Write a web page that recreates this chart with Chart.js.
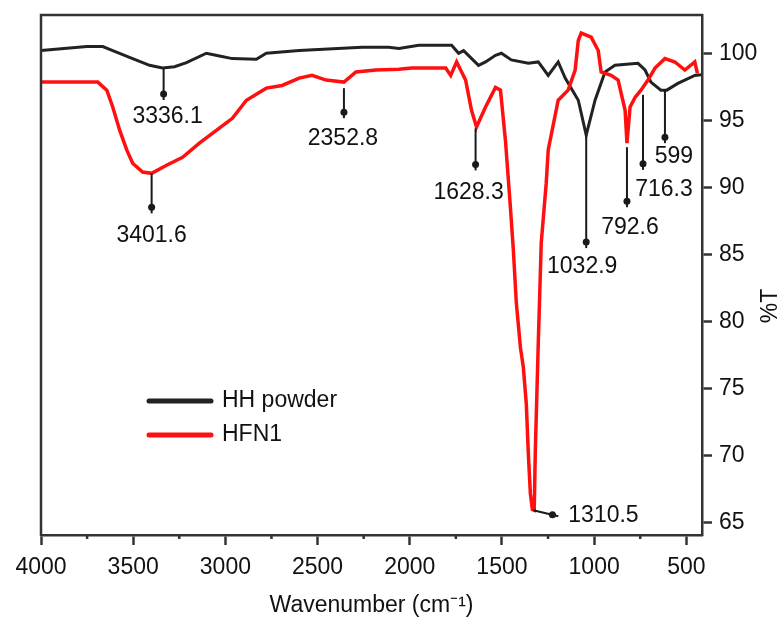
<!DOCTYPE html>
<html>
<head>
<meta charset="utf-8">
<title>FTIR spectra</title>
<script src="https://cdn.jsdelivr.net/npm/chart.js@4.4.1/dist/chart.umd.min.js"></script>
<style>
  html, body { margin: 0; padding: 0; background: #fff; }
  #wrap { width: 783px; height: 619px; }
</style>
</head>
<body>
<div id="wrap"><canvas id="ftirChart" width="783" height="619"></canvas></div>
<script>
// HH powder trace (wavenumber cm-1 / %T)
const hhWavenumber = [4000, 3751, 3665, 3611, 3503, 3411, 3341, 3276, 3211, 3103,
  3032, 2962, 2832, 2778, 2600, 2259, 2114, 2059, 1951, 1773,
  1735, 1708, 1627, 1589, 1535, 1503, 1449, 1357, 1303, 1249,
  1195, 1157, 1086, 1043, 995, 941, 887, 762, 724, 692,
  638, 606, 546, 454, 420];
const hhTransmittance = [100.2, 100.5, 100.5, 100.2, 99.6, 99.1, 98.9, 99.0, 99.3, 100.0,
  99.8, 99.6, 99.55, 100.0, 100.2, 100.45, 100.45, 100.35, 100.6, 100.6,
  100.0, 100.2, 99.1, 99.35, 99.85, 100.0, 99.5, 99.25, 99.35, 98.35,
  99.35, 98.15, 96.5, 93.9, 96.5, 98.6, 99.1, 99.25, 98.75, 97.85,
  97.25, 97.25, 97.75, 98.35, 98.4];

// HFN1 trace
const hfnWavenumber = [4000, 3692, 3643, 3611, 3573, 3535, 3503, 3449, 3400, 3319,
  3232, 3141, 3049, 2962, 2886, 2778, 2692, 2600, 2530, 2454,
  2357, 2292, 2184, 2059, 1989, 1805, 1778, 1746, 1697, 1665,
  1638, 1589, 1535, 1508, 1481, 1454, 1438, 1422, 1400, 1384,
  1368, 1357, 1346, 1335, 1325, 1319, 1303, 1287, 1260, 1249,
  1195, 1141, 1103, 1086, 1070, 1016, 978, 962, 908, 870,
  832, 822, 805, 778, 746, 708, 670, 616, 562, 508,
  454, 440];
const hfnTransmittance = [97.85, 97.85, 97.25, 96.0, 94.25, 92.8, 91.8, 91.15, 91.05, 91.65,
  92.25, 93.3, 94.25, 95.15, 96.5, 97.4, 97.6, 98.15, 98.35, 98.0,
  97.85, 98.6, 98.75, 98.8, 98.9, 98.9, 98.35, 99.35, 98.0, 95.75,
  94.5, 96.0, 97.45, 97.25, 93.5, 88.5, 85.3, 81.4, 78.1, 76.6,
  73.9, 70.2, 67.2, 66.0, 65.95, 70.4, 78.4, 85.85, 90.3, 92.8,
  96.5, 97.25, 98.75, 100.95, 101.5, 101.2, 100.2, 98.6, 98.35, 98.0,
  95.75, 93.3, 96.0, 96.7, 97.25, 98.0, 98.9, 99.6, 99.35, 98.75,
  99.35, 98.5];

const xTicks = [4000, 3500, 3000, 2500, 2000, 1500, 1000, 500];
const xMinorTicks = [3750, 3250, 2750, 2250, 1750, 1250, 750];
const yTicks = [65, 70, 75, 80, 85, 90, 95, 100];

// peak annotations: label, and the point on the trace the marker starts from
const peakLabels = ['3336.1', '3401.6', '2352.8', '1628.3', '1310.5', '1032.9', '792.6', '716.3', '599'];
const peakWavenumber = [3335, 3400, 2357, 1643, 1330, 1043, 822, 735, 616];
const peakTransmittance = [98.9, 91.05, 97.4, 94.4, 65.95, 93.9, 93.0, 96.9, 97.25];

// marker end and label placement, in pixels relative to the peak point
const peakLayout = [
  { ex: 0, ey: 32, lx: 4, ly: 49 },
  { ex: 0, ey: 40, lx: 0, ly: 62 },
  { ex: 0, ey: 30, lx: -1, ly: 51 },
  { ex: 0, ey: 42, lx: -7, ly: 64 },
  { ex: 25, ey: 6, lx: 35, ly: 5, align: 'left' },
  { ex: 0, ey: 113, lx: -4, ly: 132 },
  { ex: 0, ey: 60, lx: 3, ly: 80 },
  { ex: 0, ey: 75, lx: 21, ly: 95 },
  { ex: 0, ey: 53, lx: 9, ly: 67 }
];

const FONT = '"Liberation Sans", Arial, Helvetica, sans-serif';
const INK = '#111';
const FRAME = '#333';

const toPoints = (xs, ys) => xs.map((v, i) => ({ x: v, y: ys[i] }));

const extras = {
  id: 'extras',
  afterDatasetsDraw(chart) {
    const { ctx, chartArea: a, scales: { x, y } } = chart;
    ctx.save();

    // top and left frame
    ctx.strokeStyle = FRAME;
    ctx.lineWidth = 2.5;
    ctx.beginPath();
    ctx.moveTo(a.left, a.bottom + 1);
    ctx.lineTo(a.left, a.top);
    ctx.lineTo(a.right + 1, a.top);
    ctx.stroke();

    // minor x ticks
    ctx.beginPath();
    xMinorTicks.forEach(v => {
      const px = x.getPixelForValue(v);
      ctx.moveTo(px, a.bottom);
      ctx.lineTo(px, a.bottom + 4);
    });
    ctx.stroke();

    // peak markers
    ctx.strokeStyle = '#1a1a1a';
    ctx.fillStyle = '#1a1a1a';
    ctx.lineWidth = 2;
    ctx.font = '23px ' + FONT;
    ctx.textBaseline = 'middle';
    peakLabels.forEach((label, i) => {
      const px = x.getPixelForValue(peakWavenumber[i]);
      const py = y.getPixelForValue(peakTransmittance[i]);
      const L = peakLayout[i];
      const ex = px + L.ex, ey = py + L.ey;
      ctx.beginPath();
      ctx.moveTo(px, py);
      ctx.lineTo(ex, ey);
      ctx.stroke();
      // blob near the end of the marker
      const len = Math.hypot(L.ex, L.ey);
      const ux = L.ex / len, uy = L.ey / len;
      ctx.beginPath();
      ctx.ellipse(ex - ux * 6, ey - uy * 6, 3.5, 3.5, 0, 0, Math.PI * 2);
      ctx.fill();
      ctx.fillStyle = INK;
      ctx.textAlign = L.align || 'center';
      ctx.fillText(label, px + L.lx, py + L.ly);
      ctx.fillStyle = '#1a1a1a';
    });

    // legend
    const legendY = [401, 435];
    chart.data.datasets.slice().sort((p, q) => p.legendRow - q.legendRow).forEach((ds, i) => {
      ctx.strokeStyle = ds.borderColor;
      ctx.lineWidth = 5;
      ctx.lineCap = 'round';
      ctx.beginPath();
      ctx.moveTo(149, legendY[i]);
      ctx.lineTo(211, legendY[i]);
      ctx.stroke();
      ctx.fillStyle = INK;
      ctx.textAlign = 'left';
      ctx.font = '23px ' + FONT;
      ctx.fillText(ds.label, 222, legendY[i]);
    });

    // right axis title, reading bottom to top
    ctx.translate(771, 306);
    ctx.rotate(-Math.PI / 2);
    ctx.textAlign = 'center';
    ctx.fillStyle = INK;
    ctx.fillText('%T', 0, 0);
    ctx.restore();
  }
};

new Chart(document.getElementById('ftirChart'), {
  type: 'line',
  data: {
    datasets: [
      {
        label: 'HH powder',
        data: toPoints(hhWavenumber, hhTransmittance),
        borderColor: '#222222',
        borderWidth: 3,
        pointRadius: 0,
        tension: 0,
        order: 1,
        legendRow: 0
      },
      {
        label: 'HFN1',
        data: toPoints(hfnWavenumber, hfnTransmittance),
        borderColor: '#ff1010',
        borderWidth: 3.5,
        pointRadius: 0,
        tension: 0,
        order: 0,
        legendRow: 1
      }
    ]
  },
  options: {
    responsive: false,
    animation: false,
    layout: { padding: { left: 41, top: 15, right: 0, bottom: 0 } },
    plugins: { legend: { display: false }, tooltip: { enabled: false } },
    scales: {
      x: {
        type: 'linear',
        reverse: true,
        min: 415,
        max: 4000,
        afterBuildTicks: s => { s.ticks = xTicks.map(v => ({ value: v })); },
        afterFit: s => { s.height = 84; },
        grid: { drawOnChartArea: false, drawTicks: true, tickLength: 10, tickWidth: 2.5, tickColor: FRAME },
        border: { display: true, color: FRAME, width: 2.5 },
        ticks: { color: INK, font: { family: FONT, size: 23 }, padding: 9, maxRotation: 0, callback: v => String(v) },
        title: { display: true, text: 'Wavenumber (cm\u207B\u00B9)', color: INK, font: { family: FONT, size: 23 }, padding: 0 }
      },
      y: {
        type: 'linear',
        position: 'right',
        min: 64.1,
        max: 102.85,
        afterBuildTicks: s => { s.ticks = yTicks.map(v => ({ value: v })); },
        afterFit: s => { s.width = 81; s.paddingTop = 0; s.paddingBottom = 0; },
        grid: { drawOnChartArea: false, drawTicks: true, tickLength: 10, tickWidth: 2.5, tickColor: FRAME },
        border: { display: true, color: FRAME, width: 2.5 },
        ticks: { color: INK, font: { family: FONT, size: 23 }, padding: 7, callback: v => String(v) }
      }
    }
  },
  plugins: [extras]
});
</script>
</body>
</html>
